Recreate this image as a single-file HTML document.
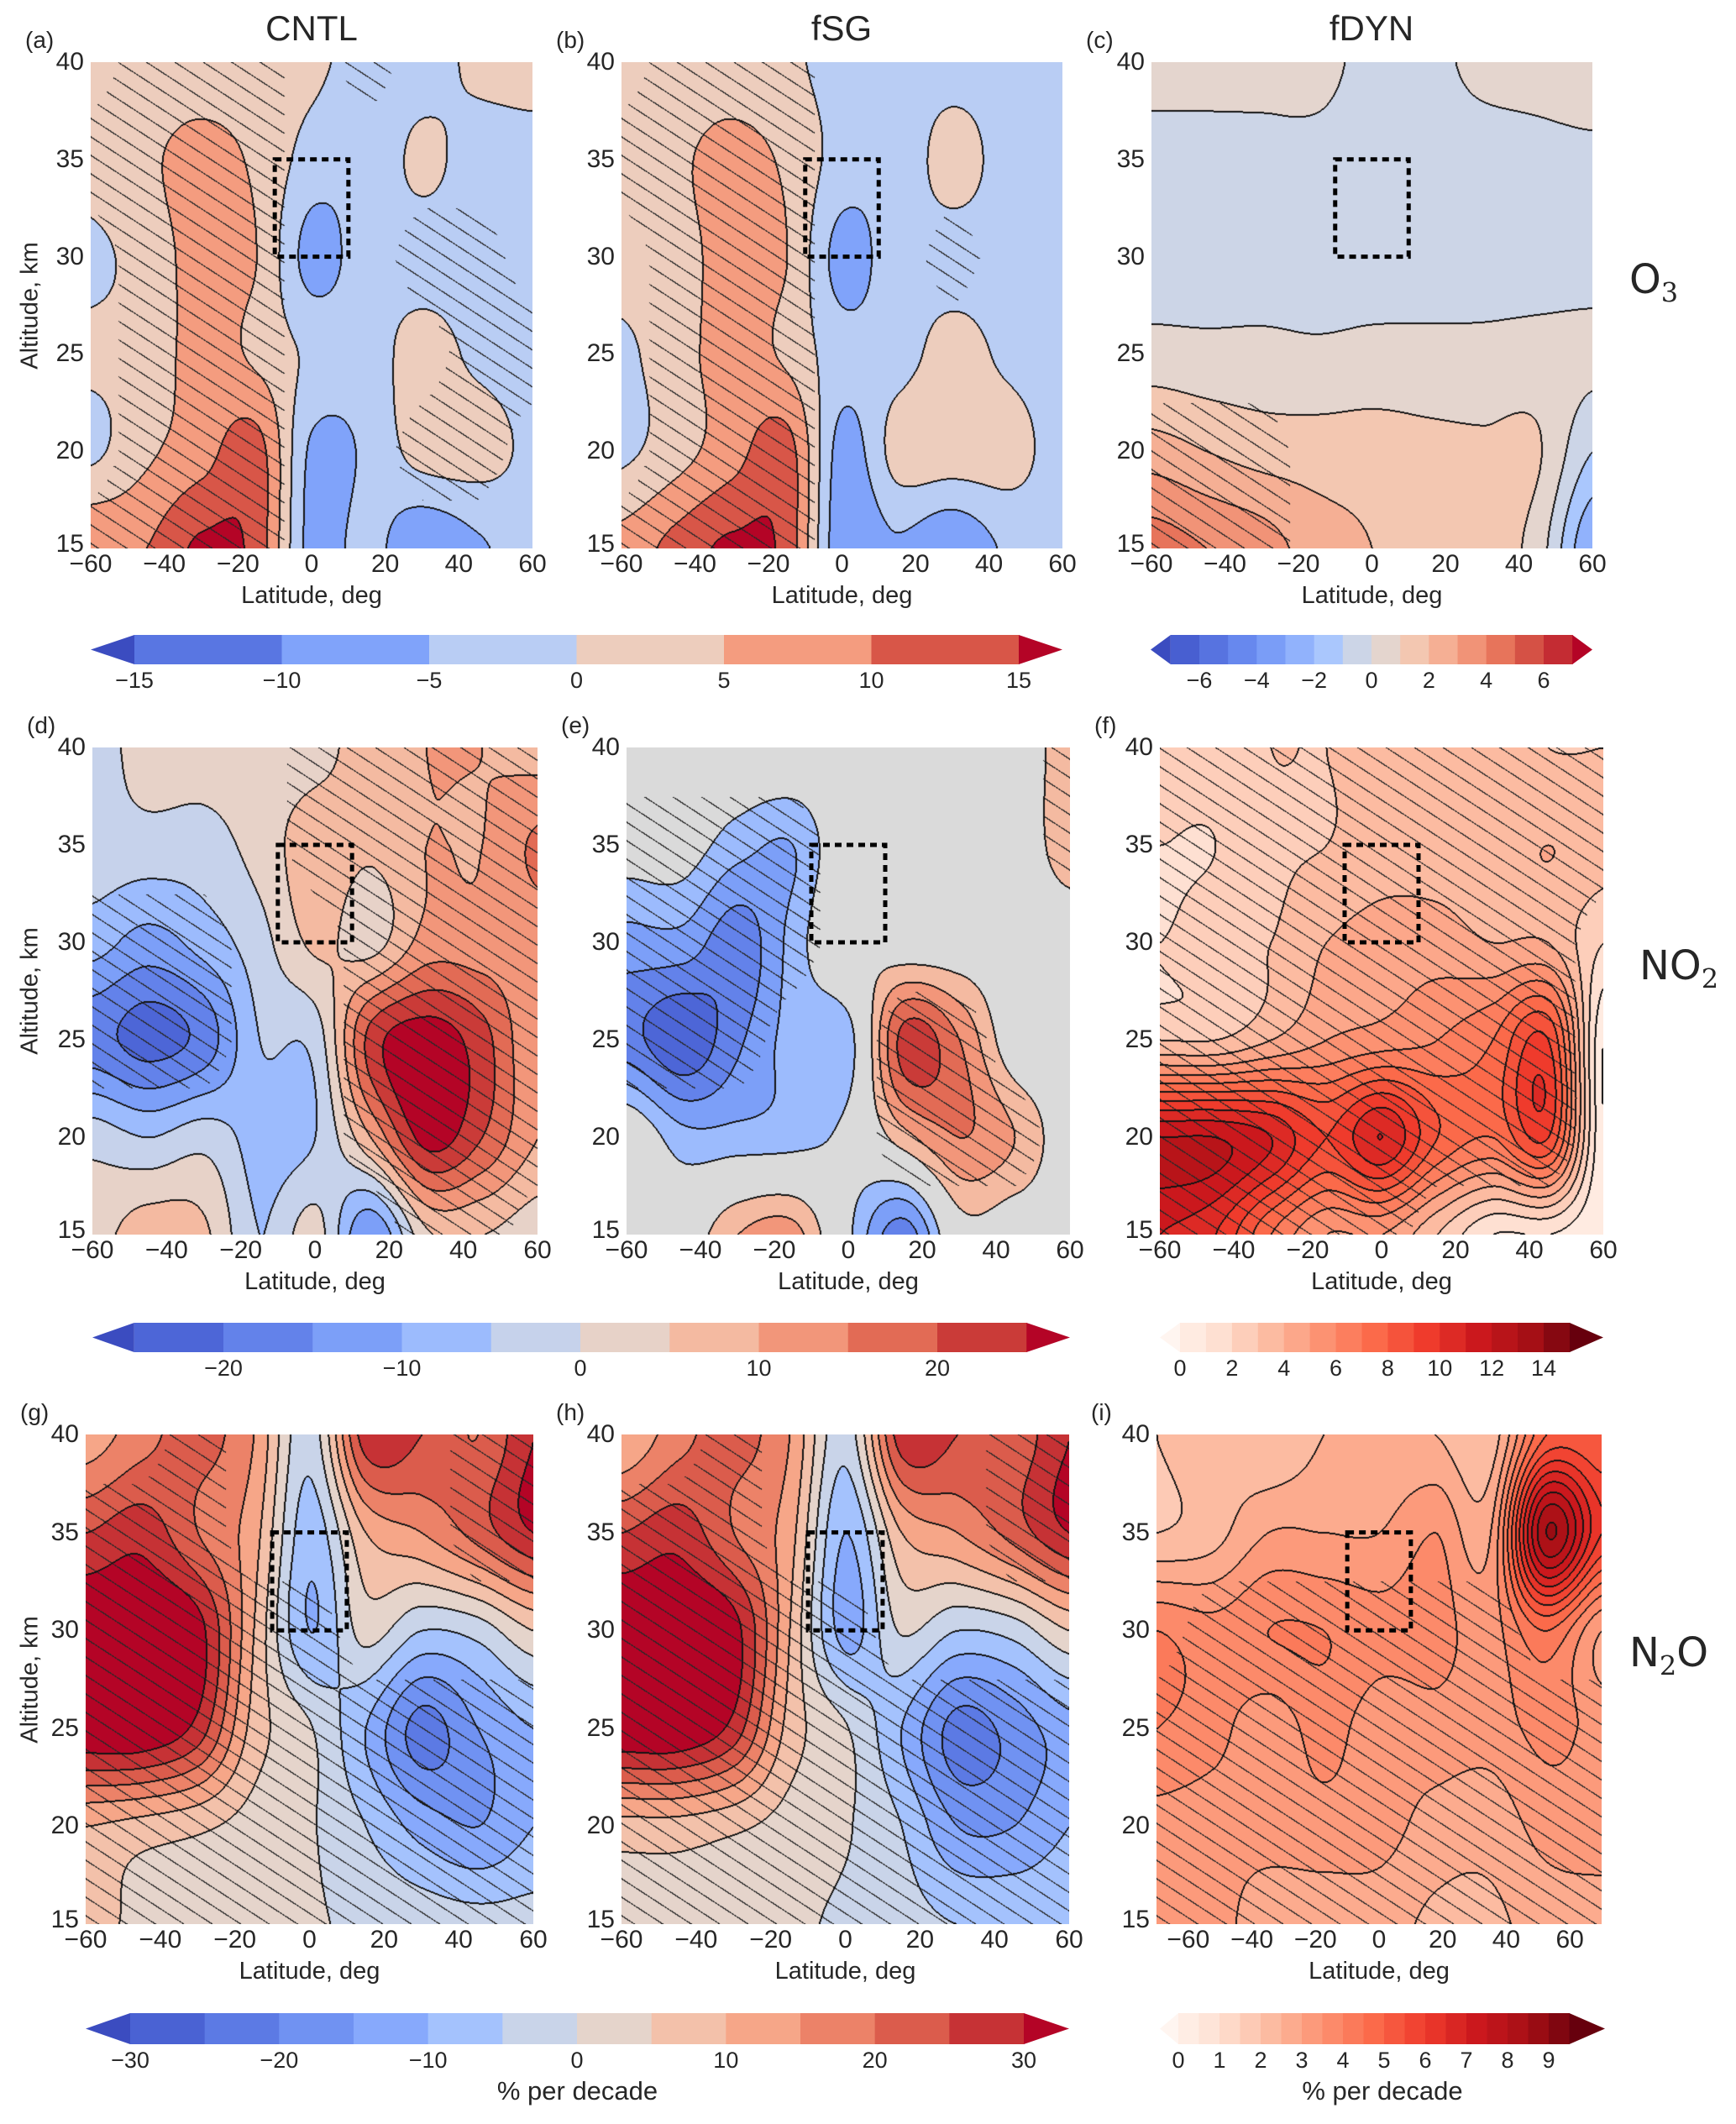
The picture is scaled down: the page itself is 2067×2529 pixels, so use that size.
<!DOCTYPE html>
<html><head><meta charset="utf-8">
<style>
body{margin:0;background:#fff;}
#root{position:relative;width:2067px;height:2529px;overflow:hidden;background:#fff;font-family:"Liberation Sans","DejaVu Sans",sans-serif;color:#262626;}
.t{position:absolute;white-space:nowrap;}
canvas{position:absolute;}
svg{position:absolute;left:0;top:0;}
</style></head>
<body>
<div id="root">
<svg id="ov" width="2067" height="2529"></svg>
</div>
<script>
// ---- data arrays (rows: alt 40,35,30,25,20,15 ; cols: 9 latitudes across panel range) ----
const altRows=[40,35,30,25,20,15];
const lv1=[-15,-10,-5,0,5,10,15];
const lvC=[-7,-6,-5,-4,-3,-2,-1,0,1,2,3,4,5,6,7];
const lv2=[-25,-20,-15,-10,-5,0,5,10,15,20,25];
const lvF=[0,1,2,3,4,5,6,7,8,9,10,11,12,13,14,15];
const lv3=[-30,-25,-20,-15,-10,-5,0,5,10,15,20,25,30];
const lvI=[0,0.5,1,1.5,2,2.5,3,3.5,4,4.5,5,5.5,6,6.5,7,7.5,8,8.5,9,9.5];
const tick1=[-15,-10,-5,0,5,10,15];
const tickC=[-6,-4,-2,0,2,4,6];
const tick2=[-20,-10,0,10,20];
const tickF=[0,2,4,6,8,10,12,14];
const tick3=[-30,-20,-10,0,10,20,30];
const tickI=[0,1,2,3,4,5,6,7,8,9];
const gridA=[[2,2,2,2,1,-2,-2,1,2],[2,4,7,4,-2,-3,1,-2,-2],[-1,2,7,5,-7,-2,-2,-2,-2],[1,2,7,4,-1,-2,2,-1,-2],[-1,4,8,12,-6,-4,2,2,-1],[10,10,16,13,-7,-3,-10,-6,-2]];
const gridB=[[2,2,2,1,-2,-2,-2,-2,-2],[2,4,7,4,-2,-3,2,-2,-2],[2,3,7,5,-7,-2,-2,-2,-2],[-1,3,7,4,-3,-2,2,-1,-2],[-1,3,8,12,-7,2,3,2,-2],[7,12,16,13,-9,-6,-10,-4,-2]];
const gridC=[[0.5,0.5,0.3,0.3,-0.3,-0.3,0.3,0.5,0.8],[-0.5,-0.5,-0.3,-0.3,-0.5,-0.5,-0.5,-0.4,-0.3],[-0.5,-0.5,-0.5,-0.5,-0.5,-0.5,-0.5,-0.5,-0.5],[0.4,0.3,0.3,0.2,0.3,0.3,0.3,0.4,0.3],[2.5,2,1.6,1.5,1.5,1.3,1.2,1.1,-1],[4.5,4,3.5,2.5,2,1.5,1.5,0.5,-3]];
const gridD=[[-2,2,2,2,3,8,10,10,8],[-2,-2,-2,2,8,6,10,10,16],[-8,-12,-8,-2,6,3,12,12,12],[-18,-22,-18,-5,-3,22,28,22,10],[-2,-5,-2,-7,-5,10,27,20,10],[3,8,6,-5,2,-15,4,5,2]];
const gridE=[[1,1,1,1,1,1,1,1,8],[-2,-2,-8,-10,1,1,1,1,8],[-12,-12,-18,-8,3,1,1,1,1],[-18,-24,-16,-8,-7,22,15,1,1],[1,-8,-8,-7,-3,8,15,10,1],[1,1,10,12,-4,-18,2,1,1]];
const gridF=[[2.5,2.5,3,3,3.5,3.5,3.5,3,3],[2,2,2.8,3,3.5,3.5,3.5,4,3.5],[2,2.5,3,4,4.5,4.5,4,4,2],[3,3,4,5,5.5,6,7,9,0],[12,12,11,9,11,8,7,9,0],[11,10,7,5,5,3,1,1,0]];
const gridG=[[12,18,22,15,-3,28,25,20,30],[25,28,20,12,-8,10,15,22,30],[35,35,32,10,-10,2,-5,-3,5],[35,35,28,8,0.5,-10,-22,-15,-10],[10,8,6,3,0.5,-5,-12,-15,-10],[8,3,2,1,0.5,-1,-2,-3,-3]];
const gridH=[[10,18,22,15,-3,28,25,22,30],[25,28,20,12,-10,10,15,22,30],[35,35,32,10,-12,0.5,-5,-3,5],[35,35,28,8,0.5,-10,-22,-18,-12],[8,8,6,3,0.5,-5,-15,-15,-10],[3,3,2,1,-1,-3,-5,-5,-5]];
const gridI=[[2,2.5,2,2.5,2.5,2.5,2.2,5,5],[2,2.3,3,3,3,3.5,3,8.5,6],[4,3.7,4,4,3.7,3.7,3.3,4.5,3],[4,3.7,3.2,3.7,3.2,3.3,3.2,3.7,3.3],[3.3,3.2,3.2,3.3,3.2,2.8,2.7,3.2,3.3],[3.2,3.2,2.7,2.7,2.7,2.4,2.4,2.7,2.7]];
const sigA=[[0,1,1,1,0,1,0,0,0],[1,1,1,1,0,0,0,0,0],[0,1,1,1,0,0,1,1,0],[0,1,1,1,0,0,0,1,1],[0,1,1,1,0,0,1,1,0],[1,1,1,1,0,0,0,0,0]];
const sigB=[[0,1,1,1,0,0,0,0,0],[1,1,1,1,0,0,0,0,0],[0,1,1,1,0,0,1,0,0],[0,1,1,1,0,0,0,0,0],[0,1,1,1,0,0,0,0,0],[1,1,1,1,0,0,0,0,0]];
const sigC=[[0,0,0,0,0,0,0,0,0],[0,0,0,0,0,0,0,0,0],[0,0,0,0,0,0,0,0,0],[0,0,0,0,0,0,0,0,0],[1,1,1,0,0,0,0,0,0],[1,1,1,0,0,0,0,0,0]];
const sigD=[[0,0,0,0,1,1,1,1,1],[0,0,0,0,1,1,1,1,1],[1,1,1,0,0,1,1,1,1],[1,1,1,0,0,1,1,1,1],[0,0,0,0,0,1,1,1,1],[0,0,0,0,0,0,1,1,0]];
const sigE=[[0,0,0,0,0,0,0,0,1],[1,1,1,1,0,0,0,0,1],[1,1,1,1,0,0,0,0,0],[1,1,1,0,0,1,1,0,0],[0,0,0,0,0,1,1,1,0],[0,0,0,0,0,0,0,0,0]];
const sigF=[[1,1,1,1,1,1,1,1,1],[1,1,1,1,1,1,1,1,1],[1,1,1,1,1,1,1,1,0],[1,1,1,1,1,1,1,1,0],[1,1,1,1,1,1,1,1,0],[1,1,1,1,1,0,0,0,0]];
const sigG=[[0,0,1,0,0,0,0,1,1],[1,1,1,0,0,0,0,1,1],[1,1,1,1,1,0,0,0,0],[1,1,1,1,1,1,1,1,1],[1,1,1,1,1,1,1,1,1],[1,1,1,1,1,1,1,1,1]];
const sigH=[[0,0,1,0,0,0,0,1,1],[1,1,1,0,0,0,0,1,1],[1,1,1,1,1,0,0,0,0],[1,1,1,1,1,1,1,1,1],[1,1,1,1,1,1,1,1,1],[1,1,1,1,1,1,1,1,1]];
const sigI=[[0,0,0,0,0,0,0,0,0],[0,0,0,0,0,0,0,0,0],[0,1,1,1,1,1,1,0,0],[1,1,1,1,1,1,1,1,1],[1,1,1,1,1,1,1,1,1],[1,1,1,1,1,1,1,1,1]];

const root=document.getElementById('root');
const ov=document.getElementById('ov');
const NS='http://www.w3.org/2000/svg';

const CW=[[0,59,76,192],[0.1,79,105,217],[0.2,103,136,238],[0.3,132,167,252],[0.4,170,199,253],[0.5,221,220,220],[0.6,243,199,177],[0.7,246,163,133],[0.8,231,116,91],[0.9,204,64,58],[1,180,4,38]];
const RD=[[0,255,245,240],[0.125,254,224,210],[0.25,252,187,161],[0.375,252,146,114],[0.5,251,106,74],[0.625,239,59,44],[0.75,203,24,29],[0.875,165,15,21],[1,103,0,13]];
function cmap(a,t){t=Math.max(0,Math.min(1,t));for(let i=1;i<a.length;i++){if(t<=a[i][0]){const f=(t-a[i-1][0])/(a[i][0]-a[i-1][0]);return [0,1,2].map(k=>Math.round(a[i-1][k+1]+f*(a[i][k+1]-a[i-1][k+1])));}}return a[a.length-1].slice(1);}
function binColors(levels,map){const n=levels.length+1;const out=[];for(let i=0;i<n;i++)out.push(cmap(map,i/(n-1)));return out;}

function txt(s,x,y,size,name,opts){const d=document.createElement('div');d.className='t';d.textContent=s;d.style.left=x+'px';d.style.top=y+'px';d.style.fontSize=size+'px';if(opts&&opts.center){d.style.transform='translate(-50%,0)';}if(opts&&opts.right){d.style.transform='translate(-100%,0)';}if(opts&&opts.rot){d.style.transform='translate(-50%,-50%) rotate(-90deg)';}


root.appendChild(d);return d;}

function cr(p0,p1,p2,p3,t){return 0.5*((2*p1)+(-p0+p2)*t+(2*p0-5*p1+4*p2-p3)*t*t+(-p0+3*p1-3*p2+p3)*t*t*t);}
function bicubic(g,fx,fy){const R=g.length,C=g[0].length;const ix=Math.floor(fx),iy=Math.floor(fy);const tx=fx-ix,ty=fy-iy;const rows=[];for(let j=-1;j<=2;j++){const r=g[Math.max(0,Math.min(R-1,iy+j))];const v=[-1,0,1,2].map(i=>r[Math.max(0,Math.min(C-1,ix+i))]);rows.push(cr(v[0],v[1],v[2],v[3],tx));}return cr(rows[0],rows[1],rows[2],rows[3],ty);}
function bilin(g,fx,fy){const R=g.length,C=g[0].length;const ix=Math.max(0,Math.min(C-2,Math.floor(fx))),iy=Math.max(0,Math.min(R-2,Math.floor(fy)));const tx=fx-ix,ty=fy-iy;return (g[iy][ix]*(1-tx)+g[iy][ix+1]*tx)*(1-ty)+(g[iy+1][ix]*(1-tx)+g[iy+1][ix+1]*tx)*ty;}

function panel(p){
  const xS=lat=>p.x+(lat-p.lat0)/(p.lat1-p.lat0)*p.w;
  const yS=alt=>p.y+(40-alt)/25*p.h;
  const cv=document.createElement('canvas');cv.width=p.w;cv.height=p.h;cv.style.left=p.x+'px';cv.style.top=p.y+'px';
  
  
  root.insertBefore(cv,ov);
  const ctx=cv.getContext('2d');const im=ctx.createImageData(p.w,p.h);const d=im.data;
  const cols=binColors(p.levels,p.map);
  const z=p.levels.indexOf(0);
  if(p.grayZero){cols[z]=[218,218,218];cols[z+1]=[218,218,218];}
  const C=p.grid[0].length,R=p.grid.length;
  const idx=new Int16Array(p.w*p.h);const sg=new Uint8Array(p.w*p.h);
  for(let py=0;py<p.h;py++){const alt=40-py/p.h*25;const fy=(40-alt)/5*(R-1)/5;
    for(let px=0;px<p.w;px++){const lat=p.lat0+px/p.w*(p.lat1-p.lat0);const fx=(lat-p.lat0)/(p.lat1-p.lat0)*(C-1);
      const v=bicubic(p.grid,fx,fy);let k=0;while(k<p.levels.length&&v>=p.levels[k])k++;
      if(p.grayZero&&k===z+1)k=z;
      idx[py*p.w+px]=k;
      sg[py*p.w+px]=bilin(p.sig,fx,fy)>0.5?1:0;}}
  for(let py=0;py<p.h;py++)for(let px=0;px<p.w;px++){const i=py*p.w+px;let c=cols[idx[i]];
    const k=idx[i];let line=false;
    if(px+1<p.w&&idx[i+1]!==k)line=true;if(py+1<p.h&&idx[i+p.w]!==k)line=true;if(px>0&&idx[i-1]!==k)line=true;if(py>0&&idx[i-p.w]!==k)line=true;
    let hv=((py-0.65*px)%22+22)%22;
    if(line)c=[20,20,20];else if(sg[i]&&hv<1.5)c=[40,40,40];
    d[i*4]=c[0];d[i*4+1]=c[1];d[i*4+2]=c[2];d[i*4+3]=255;}
  ctx.putImageData(im,0,0);
  const r=document.createElementNS(NS,'rect');r.setAttribute('x',xS(-10));r.setAttribute('y',yS(35));r.setAttribute('width',xS(10)-xS(-10));r.setAttribute('height',yS(30)-yS(35));
  r.setAttribute('fill','none');r.setAttribute('stroke','#000');r.setAttribute('stroke-width','5');r.setAttribute('stroke-dasharray','8,6');
  
  
  ov.appendChild(r);
  [15,20,25,30,35,40].forEach(a=>{txt(String(a),p.x-8,yS(a)-(a===15?22:17),30,p.name+'-y-tick',{right:true});});
  [-60,-40,-20,0,20,40,60].forEach(l=>{txt(String(l).replace('-','\u2212'),xS(l),p.y+p.h+2,30,p.name+'-x-tick',{center:true});});
  txt('Latitude, deg',p.x+p.w/2,p.y+p.h+40,29,p.name+'-x-axis-title',{center:true});
  if(p.ylab)txt('Altitude, km',36,p.y+p.h/2,29,p.name+'-y-axis-title',{rot:true});
  txt(p.letter,p.x-78,p.y-42,28,p.name+'-panel-label');
}

function colorbar(c){
  const xv=v=>c.x0+(v-c.v0)/(c.v1-c.v0)*(c.x1-c.x0);
  const cols=binColors(c.levels,c.map);const n=c.levels.length;
  const g=document.createElementNS(NS,'g');
  
  
  ov.appendChild(g);
  for(let i=0;i<n-1;i++){const rc=document.createElementNS(NS,'rect');rc.setAttribute('x',xv(c.levels[i]));rc.setAttribute('y',c.y);rc.setAttribute('width',xv(c.levels[i+1])-xv(c.levels[i])+0.5);rc.setAttribute('height',c.h);rc.setAttribute('fill','rgb('+cols[i+1].join(',')+')');
    
    
    g.appendChild(rc);}
  const L=xv(c.levels[0]),Rr=xv(c.levels[n-1]);
  const a1=document.createElementNS(NS,'polygon');a1.setAttribute('points',L+','+c.y+' '+c.tipL+','+(c.y+c.h/2)+' '+L+','+(c.y+c.h));a1.setAttribute('fill','rgb('+cols[0].join(',')+')');
  
  
  g.appendChild(a1);
  const a2=document.createElementNS(NS,'polygon');a2.setAttribute('points',Rr+','+c.y+' '+c.tipR+','+(c.y+c.h/2)+' '+Rr+','+(c.y+c.h));a2.setAttribute('fill','rgb('+cols[n].join(',')+')');
  
  
  g.appendChild(a2);
  c.ticks.forEach(t=>txt(String(t).replace('-','\u2212'),xv(t),c.y+c.h+4,27,c.name+'-tick',{center:true}));
  if(c.label)txt(c.label,(c.tipL+c.tipR)/2,c.y+c.h+38,31,c.name+'-label',{center:true});
}

panel({name:'o3-cntl',letter:'(a)',x:108,y:74,w:526,h:579,lat0:-60,lat1:60,grid:gridA,sig:sigA,levels:lv1,map:CW,ylab:true});
panel({name:'o3-fsg',letter:'(b)',x:740,y:74,w:525,h:579,lat0:-60,lat1:60,grid:gridB,sig:sigB,levels:lv1,map:CW});
panel({name:'o3-fdyn',letter:'(c)',x:1371,y:74,w:525,h:579,lat0:-60,lat1:60,grid:gridC,sig:sigC,levels:lvC,map:CW});
panel({name:'no2-cntl',letter:'(d)',x:110,y:890,w:530,h:580,lat0:-60,lat1:60,grid:gridD,sig:sigD,levels:lv2,map:CW,ylab:true});
panel({name:'no2-fsg',letter:'(e)',x:746,y:890,w:528,h:580,lat0:-60,lat1:60,grid:gridE,sig:sigE,levels:lv2,map:CW,grayZero:true});
panel({name:'no2-fdyn',letter:'(f)',x:1381,y:890,w:528,h:580,lat0:-60,lat1:60,grid:gridF,sig:sigF,levels:lvF,map:RD});
panel({name:'n2o-cntl',letter:'(g)',x:102,y:1708,w:533,h:583,lat0:-60,lat1:60,grid:gridG,sig:sigG,levels:lv3,map:CW,ylab:true});
panel({name:'n2o-fsg',letter:'(h)',x:740,y:1708,w:533,h:583,lat0:-60,lat1:60,grid:gridH,sig:sigH,levels:lv3,map:CW});
panel({name:'n2o-fdyn',letter:'(i)',x:1377,y:1708,w:530,h:583,lat0:-70,lat1:70,grid:gridI,sig:sigI,levels:lvI,map:RD});

colorbar({name:'o3-colorbar-left',levels:lv1,map:CW,v0:-15,v1:15,x0:160,x1:1213,y:756,h:35,tipL:108,tipR:1265,ticks:tick1});
colorbar({name:'o3-colorbar-right',levels:lvC,map:CW,v0:-6,v1:6,x0:1428,x1:1838,y:756,h:35,tipL:1370,tipR:1896,ticks:tickC});
colorbar({name:'no2-colorbar-left',levels:lv2,map:CW,v0:-20,v1:20,x0:266,x1:1116,y:1575,h:35,tipL:110,tipR:1274,ticks:tick2});
colorbar({name:'no2-colorbar-right',levels:lvF,map:RD,v0:0,v1:14,x0:1405,x1:1838,y:1575,h:35,tipL:1381,tipR:1909,ticks:tickF});
colorbar({name:'n2o-colorbar-left',levels:lv3,map:CW,v0:-30,v1:30,x0:155,x1:1219,y:2397,h:37,tipL:102,tipR:1273,ticks:tick3,label:'% per decade'});
colorbar({name:'n2o-colorbar-right',levels:lvI,map:RD,v0:0,v1:9,x0:1403,x1:1844,y:2397,h:37,tipL:1381,tipR:1911,ticks:tickI,label:'% per decade'});

txt('CNTL',371,10,42,'column-title-cntl',{center:true});
txt('fSG',1002,10,42,'column-title-fsg',{center:true});
txt('fDYN',1633,10,42,'column-title-fdyn',{center:true});
function species(html,x,y,name){const d=document.createElement('div');d.className='t';d.innerHTML=html;d.style.left=x+'px';d.style.top=y+'px';d.style.fontSize='48px';d.style.fontFamily='"DejaVu Sans",sans-serif';


root.appendChild(d);}
species('O<sub style="font-size:32px;font-family:\'DejaVu Serif\',serif">3</sub>',1940,305,'species-label-o3');
species('NO<sub style="font-size:32px;font-family:\'DejaVu Serif\',serif">2</sub>',1952,1122,'species-label-no2');
species('N<sub style="font-size:32px;font-family:\'DejaVu Serif\',serif">2</sub>O',1940,1940,'species-label-n2o');
</script>
</body></html>
